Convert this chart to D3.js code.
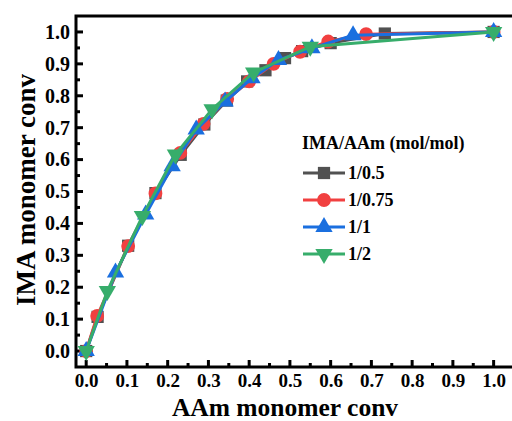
<!DOCTYPE html>
<html><head><meta charset="utf-8">
<script src="https://cdn.jsdelivr.net/npm/d3@7"></script>
<style>html,body{margin:0;padding:0;background:#fff;overflow:hidden}</style>
</head><body>
<svg id="c" width="512" height="421"></svg>
<script>
const seriesNames = ["1/0.5", "1/0.75", "1/1", "1/2"];
const colors = ["#515151", "#F14040", "#1A6FDF", "#37AD6B"];
const symbols = ["square", "circle", "triangle", "triangleDown"];
const s1x = [0, 0.028, 0.103, 0.170, 0.232, 0.290, 0.345, 0.395, 0.440, 0.488, 0.530, 0.600, 0.733, 1.0];
const s1y = [0, 0.107, 0.330, 0.495, 0.615, 0.710, 0.785, 0.845, 0.880, 0.918, 0.940, 0.965, 0.995, 1.0];
const s2x = [0, 0.027, 0.103, 0.170, 0.231, 0.288, 0.346, 0.400, 0.460, 0.525, 0.594, 0.687, 1.0];
const s2y = [0, 0.110, 0.329, 0.494, 0.621, 0.712, 0.790, 0.845, 0.900, 0.938, 0.970, 0.993, 1.0];
const s3x = [0, 0.072, 0.146, 0.211, 0.270, 0.341, 0.407, 0.472, 0.554, 0.655, 1.0];
const s3y = [0, 0.246, 0.428, 0.579, 0.694, 0.782, 0.855, 0.912, 0.949, 0.990, 1.0];
const s4x = [0, 0.052, 0.138, 0.219, 0.309, 0.411, 0.550, 1.0];
const s4y = [0, 0.188, 0.423, 0.616, 0.758, 0.873, 0.954, 1.0];
const xTicks = [0, 0.1, 0.2, 0.3, 0.4, 0.5, 0.6, 0.7, 0.8, 0.9, 1.0];
const yTicks = [0, 0.1, 0.2, 0.3, 0.4, 0.5, 0.6, 0.7, 0.8, 0.9, 1.0];
const xTitle = "AAm monomer conv";
const yTitle = "IMA monomer conv";
const legendTitle = "IMA/AAm (mol/mol)";

const xs = [s1x, s2x, s3x, s4x], ys = [s1y, s2y, s3y, s4y];
const svg = d3.select("#c");
const L = 76, T = 16, R = 514, B = 367;
const x = d3.scaleLinear().domain([-0.025, 1.05]).range([L, R]);
const y = d3.scaleLinear().domain([-0.05, 1.05]).range([B, T]);
const font = "'Liberation Serif','Times New Roman',serif";

svg.append("rect").attr("x", L).attr("y", T).attr("width", R - L).attr("height", B - T)
  .attr("fill", "none").attr("stroke", "#000").attr("stroke-width", 3);

const minorX = d3.range(0, 21).map(i => i * 0.05);
const xAxis = svg.append("g").attr("transform", `translate(0,${B})`)
  .call(d3.axisBottom(x).tickValues(xTicks).tickFormat(d3.format(".1f")).tickSize(0).tickPadding(7));
xAxis.select(".domain").remove();
xAxis.selectAll("text").attr("font-family", font).attr("font-weight", "bold").attr("font-size", 19).attr("fill", "#000");
svg.append("g").selectAll("line").data(minorX).join("line")
  .attr("x1", d => x(d)).attr("x2", d => x(d))
  .attr("y1", B).attr("y2", (d, i) => B - (i % 2 === 0 ? 7 : 4))
  .attr("stroke", "#000").attr("stroke-width", 3);

const yAxis = svg.append("g").attr("transform", `translate(${L},0)`)
  .call(d3.axisLeft(y).tickValues(yTicks).tickFormat(d3.format(".1f")).tickSize(0).tickPadding(6));
yAxis.select(".domain").remove();
yAxis.selectAll("text").attr("font-family", font).attr("font-weight", "bold").attr("font-size", 20).attr("fill", "#000");
svg.append("g").selectAll("line").data(minorX).join("line")
  .attr("y1", d => y(d)).attr("y2", d => y(d))
  .attr("x1", L).attr("x2", (d, i) => L + (i % 2 === 0 ? 7 : 4))
  .attr("stroke", "#000").attr("stroke-width", 3);

svg.append("text").attr("x", 285).attr("y", 415.5).attr("text-anchor", "middle")
  .attr("font-family", font).attr("font-weight", "bold").attr("font-size", 25.5).text(xTitle);
svg.append("text").attr("transform", "translate(35,190) rotate(-90)").attr("text-anchor", "middle")
  .attr("font-family", font).attr("font-weight", "bold").attr("font-size", 27).text(yTitle);

const symMap = {square: d3.symbolSquare, circle: d3.symbolCircle, triangle: d3.symbolTriangle, triangleDown: d3.symbolTriangle};
const symSize = {square: 150, circle: 150, triangle: 130, triangleDown: 130};
function marker(g, k, cx, cy, c) {
  g.append("path").attr("d", d3.symbol().type(symMap[k]).size(symSize[k])())
    .attr("fill", c)
    .attr("transform", `translate(${cx},${cy})` + (k === "triangleDown" ? " rotate(180)" : ""));
}
const line = d3.line().x(d => x(d[0])).y(d => y(d[1]));
for (let s = 0; s < 4; s++) {
  const pts = xs[s].map((v, i) => [v, ys[s][i]]);
  const g = svg.append("g");
  g.append("path").attr("d", line(pts)).attr("fill", "none").attr("stroke", colors[s]).attr("stroke-width", 3);
  pts.forEach(p => marker(g, symbols[s], x(p[0]), y(p[1]), colors[s]));
}

svg.append("text").attr("x", 302).attr("y", 149).attr("font-family", font).attr("font-weight", "bold")
  .attr("font-size", 18).text(legendTitle);
seriesNames.forEach((n, i) => {
  const cy = 173 + i * 27;
  const g = svg.append("g");
  g.append("line").attr("x1", 303).attr("x2", 345).attr("y1", cy).attr("y2", cy)
    .attr("stroke", colors[i]).attr("stroke-width", 3);
  marker(g, symbols[i], 324, cy, colors[i]);
  g.append("text").attr("x", 348).attr("y", cy + 6).attr("font-family", font).attr("font-weight", "bold")
    .attr("font-size", 18).text(n);
});
</script>
</body></html>
